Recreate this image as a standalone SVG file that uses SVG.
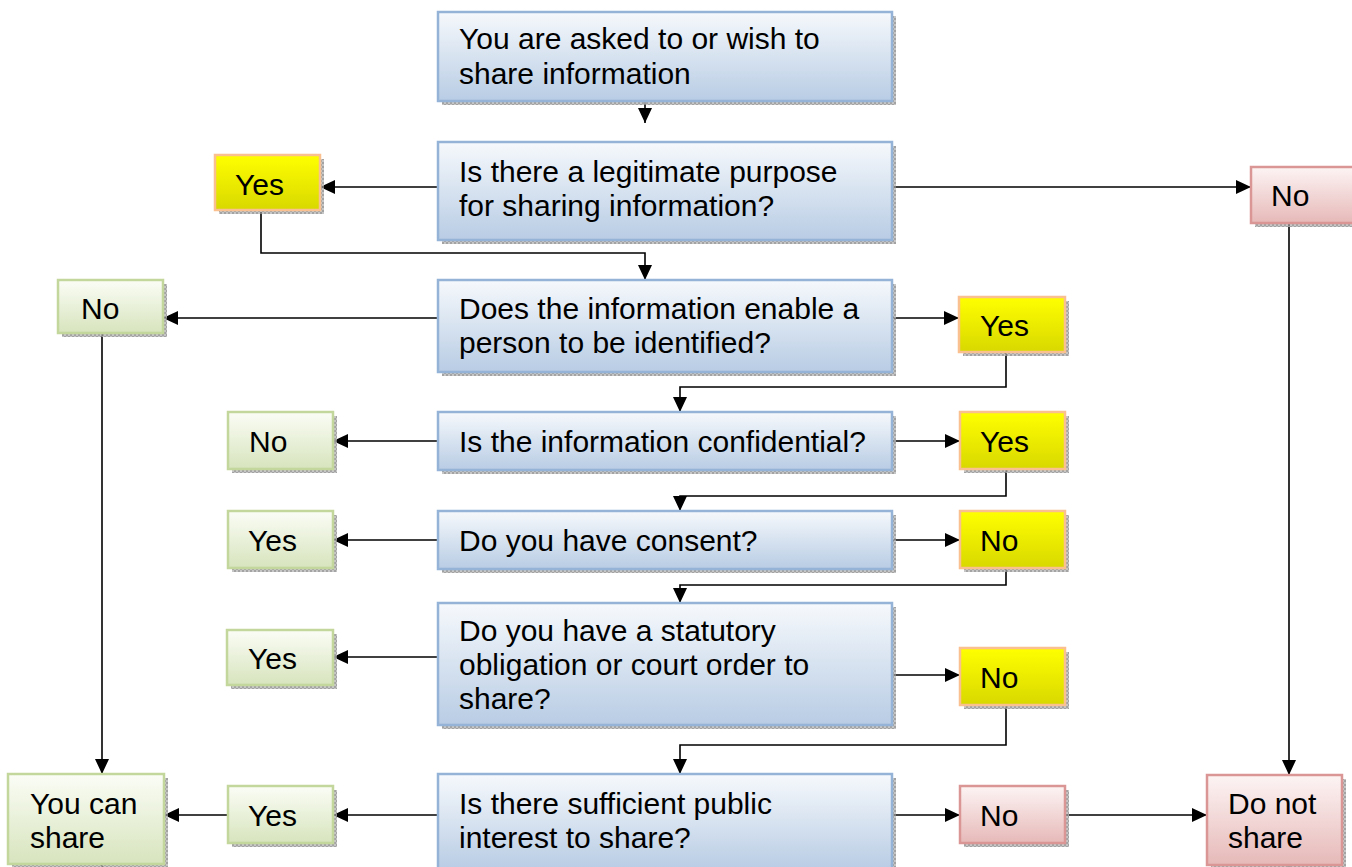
<svg xmlns="http://www.w3.org/2000/svg" width="1352" height="867" viewBox="0 0 1352 867">
<defs>
<linearGradient id="gBlue" x1="0" y1="0" x2="0" y2="1"><stop offset="0" stop-color="#f6f9fc"/><stop offset="1" stop-color="#b8cce4"/></linearGradient>
<linearGradient id="gYellow" x1="0" y1="0" x2="0" y2="1"><stop offset="0" stop-color="#ffff00"/><stop offset="1" stop-color="#d8d800"/></linearGradient>
<linearGradient id="gGreen" x1="0" y1="0" x2="0" y2="1"><stop offset="0" stop-color="#fbfdf6"/><stop offset="1" stop-color="#d7e4bd"/></linearGradient>
<linearGradient id="gRed" x1="0" y1="0" x2="0" y2="1"><stop offset="0" stop-color="#fdf4f4"/><stop offset="1" stop-color="#e6b9b8"/></linearGradient>
<pattern id="shp" width="4" height="4" patternUnits="userSpaceOnUse"><rect width="4" height="4" fill="#b8b8b8"/><rect width="2" height="2" fill="#8c8c8c"/><rect x="2" y="2" width="2" height="2" fill="#8c8c8c"/></pattern>
<marker id="arr" markerUnits="userSpaceOnUse" markerWidth="16" markerHeight="14" refX="15" refY="7" orient="auto"><path d="M0,0 L15,7 L0,14 z" fill="#000"/></marker>
<style>
.sh{fill:url(#shp);opacity:0.8}
.blue{fill:url(#gBlue);stroke:#95b3d7;stroke-width:2.5}
.yel{fill:url(#gYellow);stroke:#fac090;stroke-width:2.5}
.grn{fill:url(#gGreen);stroke:#c3d69b;stroke-width:2.5}
.red{fill:url(#gRed);stroke:#d99694;stroke-width:2.5}
text{font-family:"Liberation Sans",Arial,sans-serif;font-size:30px;fill:#000}
.c{fill:none;stroke:#000;stroke-width:1.6}
.ca{fill:none;stroke:#000;stroke-width:1.6;marker-end:url(#arr)}
</style>
</defs>

<g id="connectors">
<path class="ca" d="M645,102 L645,123"/>
<path class="ca" d="M438,187 L320,187"/>
<path class="ca" d="M892,187 L1251,187"/>
<path class="ca" d="M261,212 L261,253 L645,253 L645,280"/>
<path class="ca" d="M438,318 L163,318"/>
<path class="ca" d="M892,318 L959,318"/>
<path class="ca" d="M1006,352 L1006,387 L680,387 L680,412"/>
<path class="ca" d="M438,441 L333,441"/>
<path class="ca" d="M892,441 L960,441"/>
<path class="ca" d="M1006,469 L1006,496 L680,496 L680,511"/>
<path class="ca" d="M438,540 L333,540"/>
<path class="ca" d="M892,540 L960,540"/>
<path class="ca" d="M1006,568 L1006,585 L680,585 L680,603"/>
<path class="ca" d="M438,657 L333,657"/>
<path class="ca" d="M892,675 L960,675"/>
<path class="ca" d="M1006,705 L1006,745 L680,745 L680,774"/>
<path class="ca" d="M438,815 L333,815"/>
<path class="ca" d="M228,815 L164,815"/>
<path class="ca" d="M892,815 L960,815"/>
<path class="ca" d="M1065,815 L1207,815"/>
<path class="ca" d="M102,333 L102,774"/>
<path class="ca" d="M1289,223 L1289,775"/>
<path class="c" d="M102,862 L102,867"/>
<path class="c" d="M1289,863 L1289,867"/>
</g>

<g id="n1"><rect class="sh" x="442" y="16" width="454" height="89"/><rect class="blue" x="438" y="12" width="454" height="89"/><text x="459" y="49">You are asked to or wish to</text><text x="459" y="84">share information</text></g>
<g id="n2"><rect class="sh" x="442" y="146" width="454" height="98"/><rect class="blue" x="438" y="142" width="454" height="98"/><text x="459" y="182">Is there a legitimate purpose</text><text x="459" y="216">for sharing information?</text></g>
<g id="n3"><rect class="sh" x="442" y="284" width="454" height="92"/><rect class="blue" x="438" y="280" width="454" height="92"/><text x="459" y="319">Does the information enable a</text><text x="459" y="353">person to be identified?</text></g>
<g id="n4"><rect class="sh" x="442" y="416" width="454" height="58"/><rect class="blue" x="438" y="412" width="454" height="58"/><text x="459" y="452">Is the information confidential?</text></g>
<g id="n5"><rect class="sh" x="442" y="515" width="454" height="58"/><rect class="blue" x="438" y="511" width="454" height="58"/><text x="459" y="551">Do you have consent?</text></g>
<g id="n6"><rect class="sh" x="442" y="607" width="454" height="122"/><rect class="blue" x="438" y="603" width="454" height="122"/><text x="459" y="641">Do you have a statutory</text><text x="459" y="675">obligation or court order to</text><text x="459" y="709">share?</text></g>
<g id="n7"><rect class="sh" x="442" y="778" width="454" height="96"/><rect class="blue" x="438" y="774" width="454" height="96"/><text x="459" y="814">Is there sufficient public</text><text x="459" y="848">interest to share?</text></g>

<g id="yes1"><rect class="sh" x="219" y="159" width="105" height="55"/><rect class="yel" x="215" y="155" width="105" height="55"/><text x="235" y="195">Yes</text></g>
<g id="no1"><rect class="sh" x="1255" y="171" width="110" height="56"/><rect class="red" x="1251" y="167" width="110" height="56"/><text x="1271" y="206">No</text></g>
<g id="no2"><rect class="sh" x="62" y="284" width="105" height="53"/><rect class="grn" x="58" y="280" width="105" height="53"/><text x="81" y="319">No</text></g>
<g id="yes2"><rect class="sh" x="963" y="301" width="106" height="55"/><rect class="yel" x="959" y="297" width="106" height="55"/><text x="980" y="336">Yes</text></g>
<g id="no3"><rect class="sh" x="232" y="416" width="105" height="57"/><rect class="grn" x="228" y="412" width="105" height="57"/><text x="249" y="452">No</text></g>
<g id="yes3"><rect class="sh" x="964" y="416" width="105" height="57"/><rect class="yel" x="960" y="412" width="105" height="57"/><text x="980" y="452">Yes</text></g>
<g id="yes4"><rect class="sh" x="232" y="515" width="105" height="57"/><rect class="grn" x="228" y="511" width="105" height="57"/><text x="248" y="551">Yes</text></g>
<g id="no4"><rect class="sh" x="964" y="515" width="105" height="57"/><rect class="yel" x="960" y="511" width="105" height="57"/><text x="980" y="551">No</text></g>
<g id="yes5"><rect class="sh" x="231" y="634" width="106" height="55"/><rect class="grn" x="227" y="630" width="106" height="55"/><text x="248" y="669">Yes</text></g>
<g id="no5"><rect class="sh" x="964" y="652" width="105" height="57"/><rect class="yel" x="960" y="648" width="105" height="57"/><text x="980" y="688">No</text></g>
<g id="share"><rect class="sh" x="12" y="778" width="156" height="90"/><rect class="grn" x="8" y="774" width="156" height="90"/><text x="30" y="814">You can</text><text x="30" y="848">share</text></g>
<g id="yes6"><rect class="sh" x="232" y="790" width="105" height="57"/><rect class="grn" x="228" y="786" width="105" height="57"/><text x="248" y="826">Yes</text></g>
<g id="no6"><rect class="sh" x="964" y="790" width="105" height="57"/><rect class="red" x="960" y="786" width="105" height="57"/><text x="980" y="826">No</text></g>
<g id="noshare"><rect class="sh" x="1211" y="779" width="135" height="90"/><rect class="red" x="1207" y="775" width="135" height="90"/><text x="1228" y="814">Do not</text><text x="1228" y="848">share</text></g>
</svg>
